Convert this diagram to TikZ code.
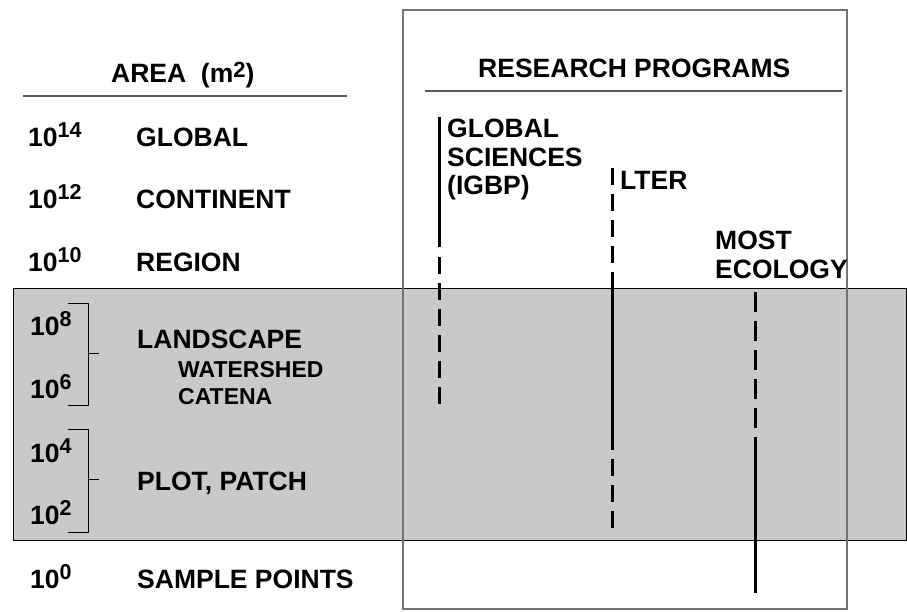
\documentclass[tikz,border=0pt]{standalone}
\usepackage{fontspec}
\setmainfont{Liberation Sans}
\usetikzlibrary{positioning}

\newcommand{\tenpow}[1]{10\raisebox{9pt}{\fontsize{21.5}{21.5}\selectfont #1}}

\begin{document}
\begin{tikzpicture}[x=1pt,y=-1pt,
                    big text/.style={font=\fontsize{26.5}{28}\selectfont\bfseries,inner sep=0pt,anchor=base west},
                    small text/.style={font=\fontsize{23}{26}\selectfont\bfseries,inner sep=0pt,anchor=base west},
                    head rule/.style={draw=black!65,line width=2.5pt},
                    solid prog/.style={line width=3pt},
                    dashed prog/.style={line width=3pt,dash pattern=on 17pt off 9pt},
                    bracket/.style={line width=1pt}]

  \useasboundingbox (0,0) rectangle (907,612);

  % shaded band and research frame
  \fill[black!21] (13,288) rectangle (906,540);
  \draw[line width=1pt] (13,288) rectangle (906,540);
  \draw[black!55,line width=1.3pt] (403,10) rectangle (847,609);

  % headings
  \node[big text] (area) at (111,83) {AREA\ \ (m\raisebox{5pt}{\fontsize{22}{22}\selectfont 2})};
  \node[big text] (progs) at (478,78) {RESEARCH PROGRAMS};
  \draw[head rule] (23,96) -- (347,96);
  \draw[head rule] (425,91) -- (842,91);

  % scale column
  \node[big text] (p14) at (28,147) {\tenpow{14}};
  \node[big text] (p12) at (28,209) {\tenpow{12}};
  \node[big text] (p10) at (28,272) {\tenpow{10}};
  \node[big text] (p8)  at (30,335) {\tenpow{8}};
  \node[big text] (p6)  at (30,398) {\tenpow{6}};
  \node[big text] (p4)  at (30,462) {\tenpow{4}};
  \node[big text] (p2)  at (30,524) {\tenpow{2}};
  \node[big text] (p0)  at (30,588) {\tenpow{0}};

  \node[big text] (global) at (136,147) {GLOBAL};
  \node[big text] (continent) at (136,209) {CONTINENT};
  \node[big text] (region) at (136,272) {REGION};
  \node[big text] (landscape) at (137,348) {LANDSCAPE};
  \node[small text] (watershed) at (178,377) {WATERSHED};
  \node[small text] (catena) at (178,404) {CATENA};
  \node[big text] (plot) at (137,490) {PLOT, PATCH};
  \node[big text] (sample) at (137,588) {SAMPLE POINTS};

  % brackets
  \draw[bracket] (68,303) -- (88,303) -- (88,405) -- (68,405);
  \draw[bracket] (88,353) -- (99,353);
  \draw[bracket] (68,429) -- (88,429) -- (88,532) -- (68,532);
  \draw[bracket] (88,479) -- (99,479);

  % program labels
  \node[big text] (igbp1) at (447,138) {GLOBAL};
  \node[big text] (igbp2) at (447,167) {SCIENCES};
  \node[big text] (igbp3) at (447,195) {(IGBP)};
  \node[big text] (lter) at (620,190) {LTER};
  \node[big text] (most1) at (715,250) {MOST};
  \node[big text] (most2) at (715,278) {ECOLOGY};

  % program ranges
  \coordinate (igbp a) at (439,117);
  \coordinate (igbp b) at (439,247);
  \coordinate (igbp c) at (439,257);
  \coordinate (igbp d) at (439,404);
  \coordinate (lter a) at (612,168);
  \coordinate (lter b) at (612,289);
  \coordinate (lter c) at (612,450);
  \coordinate (lter d) at (612,459);
  \coordinate (lter e) at (612,528);
  \coordinate (most a) at (755,292);
  \coordinate (most b) at (755,428);
  \coordinate (most c) at (755,437);
  \coordinate (most d) at (755,593);

  \draw[solid prog] (igbp a) -- (igbp b);
  \draw[dashed prog] (igbp c) -- (igbp d);
  \draw[dashed prog] (lter a) -- (lter b);
  \draw[solid prog] (lter b) -- (lter c);
  \draw[dashed prog] (lter d) -- (lter e);
  \draw[dashed prog,dash pattern=on 20pt off 9pt] (most a) -- (most b);
  \draw[solid prog] (most c) -- (most d);

\end{tikzpicture}
\end{document}
